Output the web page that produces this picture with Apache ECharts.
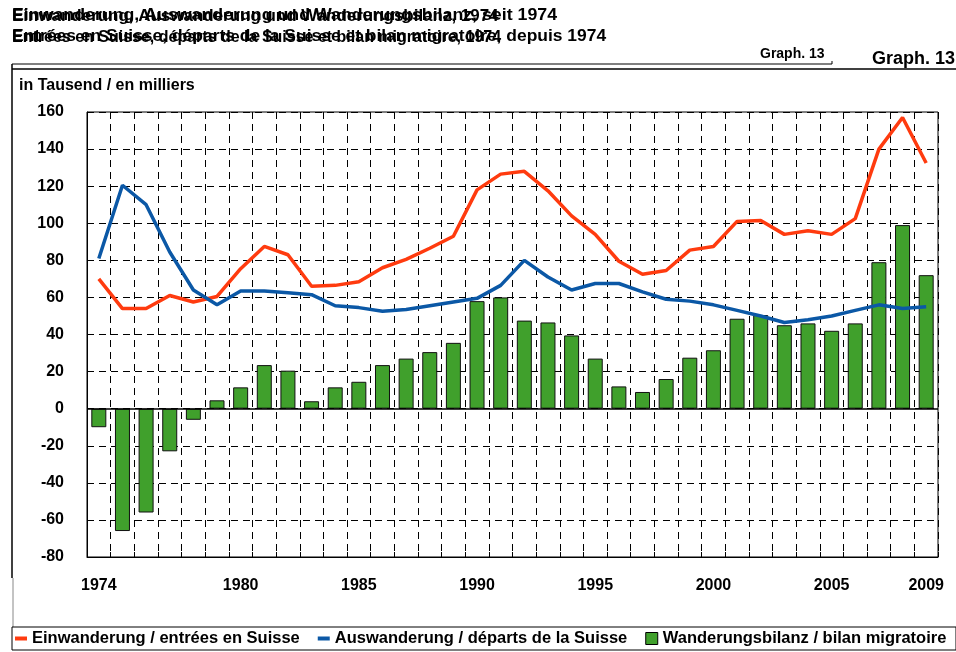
<!DOCTYPE html>
<html>
<head>
<meta charset="utf-8">
<script src="https://cdn.jsdelivr.net/npm/echarts@6/dist/echarts.min.js"></script>
<style>
  html, body { margin: 0; padding: 0; background: #fff; }
  #chart { width: 956px; height: 652px; }
</style>
</head>
<body>
<div id="chart"></div>
<script>
// Jahre / années
var years = ['1974', '1975', '1976', '1977', '1978', '1979', '1980', '1981', '1982', '1983',
  '1984', '1985', '1986', '1987', '1988', '1989', '1990', '1991', '1992', '1993',
  '1994', '1995', '1996', '1997', '1998', '1999', '2000', '2001', '2002', '2003',
  '2004', '2005', '2006', '2007', '2008', '2009']
var shownYears = ['1974', '1980', '1985', '1990', '1995', '2000', '2005', '2009']

// in Tausend / en milliers
var einwanderung = [70, 54, 54, 61, 57.5, 60.5, 75.5, 87.5, 83, 66, 66.5, 68.5,
  76, 80.5, 86.5, 93, 118, 126.5, 128, 117.5, 104, 94, 79.5, 72.5, 74.5, 85.5,
  87.5, 101, 101.5, 94, 96, 94, 102.5, 140, 157, 132.5]
var auswanderung = [81, 120.5, 110, 84.5, 64, 56, 63.5, 63.5, 62.5, 61.5, 55.5, 54.5,
  52.5, 53.5, 55.5, 57.5, 59.5, 66.5, 80, 71, 64, 67.5, 67.5, 63, 59, 58,
  56, 53, 50, 46.5, 48, 50, 53, 56, 54, 55]
var bilanz = [-10, -66, -56, -23, -6, 4.5, 11.5, 23.5, 20.5, 4, 11.5, 14.5,
  23.5, 27, 30.5, 35.5, 58, 60, 47.5, 46.5, 39.5, 27, 12, 9, 16, 27.5,
  31.5, 48.5, 50.5, 45, 46, 42, 46, 79, 99, 72]

var font = 'Liberation Sans, Arial, sans-serif'
var chart = echarts.init(document.getElementById('chart'))

chart.setOption({
  animation: false,
  textStyle: { fontFamily: font },
  grid: {
    left: 87,
    right: 18,
    top: 112,
    bottom: 95,
    show: true,
    borderColor: '#000',
    borderWidth: 1
  },
  graphic: [
    // der Titel liegt im Original doppelt übereinander
    { type: 'text', x: 12, y: 8, scaleX: 1.11, style: { text: 'Einwanderung, Auswanderung und Wanderungsbilanz, seit 1974', font: 'bold 16px ' + font, fill: '#000' } },
    { type: 'text', x: 12, y: 9, scaleX: 1.06, style: { text: 'Einwanderung, Auswanderung und Wanderungsbilanz, 1974', font: 'bold 16px ' + font, fill: '#000' } },
    { type: 'text', x: 12, y: 29, scaleX: 1.09, style: { text: 'Entrées en Suisse, départs de la Suisse et bilan migratoire, depuis 1974', font: 'bold 16px ' + font, fill: '#000' } },
    { type: 'text', x: 12, y: 30, scaleX: 1.0, style: { text: 'Entrées en Suisse, départs de la Suisse et bilan migratoire, 1974', font: 'bold 16px ' + font, fill: '#000' } },
    { type: 'text', x: 760, y: 47, style: { text: 'Graph. 13', font: 'bold 14px ' + font, fill: '#000' } },
    { type: 'text', x: 872, y: 50, style: { text: 'Graph. 13', font: 'bold 18px ' + font, fill: '#000' } },
    { type: 'polyline', shape: { points: [[12, 64], [832, 64], [832, 61]] }, style: { stroke: '#000', lineWidth: 1, fill: null } },
    { type: 'line', shape: { x1: 12, y1: 69, x2: 956, y2: 69 }, style: { stroke: '#000', lineWidth: 1.5 } },
    { type: 'line', shape: { x1: 12, y1: 64, x2: 12, y2: 578 }, style: { stroke: '#000', lineWidth: 1.5 } },
    { type: 'line', shape: { x1: 13, y1: 578, x2: 13, y2: 627 }, style: { stroke: '#888', lineWidth: 1 } },
    { type: 'rect', shape: { x: 12, y: 627, width: 944, height: 23 }, style: { stroke: '#000', lineWidth: 1, fill: null } },
    { type: 'text', x: 19, y: 78, style: { text: 'in Tausend / en milliers', font: 'bold 16px ' + font, fill: '#000' } }
  ],
  legend: {
    left: 15,
    top: 630,
    padding: 0,
    itemGap: 18,
    itemWidth: 12,
    itemHeight: 12,
    textStyle: { fontSize: 16.5, fontWeight: 'bold', color: '#000', fontFamily: font },
    data: [
      { name: 'Einwanderung / entrées en Suisse', icon: 'path://M0,0 L12,0 L12,4 L0,4 Z' },
      { name: 'Auswanderung / départs de la Suisse', icon: 'path://M0,0 L12,0 L12,4 L0,4 Z' },
      { name: 'Wanderungsbilanz / bilan migratoire', icon: 'rect', itemStyle: { borderColor: '#000', borderWidth: 1 } }
    ]
  },
  xAxis: {
    type: 'category',
    data: years,
    boundaryGap: true,
    axisLine: { onZero: false, lineStyle: { color: '#000' } },
    axisTick: { show: true, inside: true, length: 5, interval: 0, lineStyle: { color: '#000' } },
    axisLabel: {
      interval: function (i, v) { return shownYears.indexOf(v) >= 0 },
      margin: 21,
      fontSize: 16,
      fontWeight: 'bold',
      color: '#000'
    },
    splitLine: { show: true, interval: 0, lineStyle: { color: '#000', type: [7, 5], width: 1 } }
  },
  yAxis: {
    type: 'value',
    min: -80,
    max: 160,
    interval: 20,
    axisLine: { show: true, lineStyle: { color: '#000' } },
    axisTick: { show: false },
    axisLabel: { margin: 23, fontSize: 16, fontWeight: 'bold', color: '#000' },
    splitLine: { show: true, lineStyle: { color: '#000', type: [7, 5], width: 1 } }
  },
  series: [
    {
      name: 'Wanderungsbilanz / bilan migratoire',
      type: 'bar',
      data: bilanz,
      barWidth: 15,
      z: 1,
      itemStyle: { color: '#40a02c', borderColor: '#111', borderWidth: 1 },
      markLine: {
        silent: true,
        symbol: 'none',
        label: { show: false },
        lineStyle: { color: '#000', type: 'solid', width: 1.5 },
        data: [{ yAxis: 0 }]
      }
    },
    {
      name: 'Einwanderung / entrées en Suisse',
      type: 'line',
      data: einwanderung,
      showSymbol: false,
      z: 3,
      color: '#ff3b0f',
      lineStyle: { width: 3.5, color: '#ff3b0f' }
    },
    {
      name: 'Auswanderung / départs de la Suisse',
      type: 'line',
      data: auswanderung,
      showSymbol: false,
      z: 3,
      color: '#0b58a6',
      lineStyle: { width: 3.5, color: '#0b58a6' }
    }
  ]
})
</script>
</body>
</html>
